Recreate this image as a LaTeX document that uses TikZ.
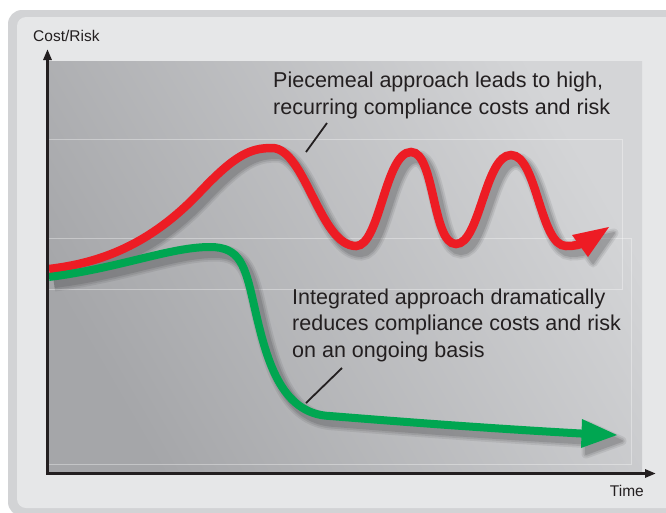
\documentclass[tikz,border=0pt]{standalone}
\usepackage{fontspec}
\setmainfont{Liberation Sans}
\usetikzlibrary{arrows.meta}
\definecolor{frameout}{HTML}{D2D3D5}
\definecolor{framein}{HTML}{E6E7E8}
\definecolor{plotdark}{HTML}{A5A6A9}
\definecolor{plotlight}{HTML}{D4D5D7}
\definecolor{inkc}{HTML}{231F20}
\definecolor{redc}{HTML}{ED1C24}
\definecolor{greenc}{HTML}{00A651}
\definecolor{shadowc}{HTML}{38383A}
\tikzset{
  redline/.style={draw=redc, line width=8.5pt},
  greenline/.style={draw=greenc, line width=8pt},
  callout/.style={draw=inkc, line width=1.8pt},
  panel/.style={draw=white, opacity=0.35, line width=0.8pt},
  bigtext/.style={font=\fontsize{21.5}{26.5}\selectfont, text=inkc, align=left, inner sep=0pt},
  axislabel/.style={font=\fontsize{15.5}{18}\selectfont, text=inkc, inner sep=0pt},
  axisline/.style={draw=inkc, line width=3pt, {Triangle[length=11pt,width=8pt]}-{Triangle[length=11pt,width=8pt]}}
}
\def\redpath{(49,269) .. controls (100,263) and (150,245) .. (200,192)
  .. controls (235,155) and (250,148) .. (272,148)
  .. controls (305,148) and (320,246) .. (356,246)
  .. controls (380,246) and (385,152) .. (411,152)
  .. controls (435,152) and (432,244) .. (456,244)
  .. controls (480,244) and (485,155) .. (511,155)
  .. controls (537,155) and (540,246) .. (566,246)
  .. controls (575,246) and (580,245) .. (588,241)}
\def\redhead{(609,227) -- (572,235) -- (588,257) -- cycle}
\def\greenpath{(49,277) .. controls (120,268) and (170,247) .. (210,247)
  .. controls (240,247) and (245,265) .. (254,305)
  .. controls (266,358) and (280,414) .. (330,416)
  .. controls (380,420) and (480,428) .. (590,434)}
\def\greenhead{(617,435) -- (582,419) -- (581,448) -- cycle}
\begin{document}
\begin{tikzpicture}[x=1pt,y=-1pt]
\useasboundingbox (0,0) rectangle (666,512);
\begin{scope}
\clip (0,0) rectangle (666,512);
\fill[white] (0,0) rectangle (666,512);
\fill[frameout, rounded corners=14pt] (8,10) rectangle (700,516);
\fill[framein, rounded corners=9pt] (17,17) rectangle (690,508);
\end{scope}
% plot area
\shade[top color=plotlight, bottom color=plotdark, shading angle=-60] (47,61) rectangle (642,473);
\draw[panel] (49,139) -| (622,289) -- (49,289);
\draw[panel] (49,238) -| (631,464) -- (49,464);
% shadows
\foreach \w/\o in {17/0.10, 13.5/0.13, 10/0.17} {
  \begin{scope}[transparency group, opacity=\o, shift={(5,6)}]
    \draw[shadowc, line width=\w pt] \redpath;
    \filldraw[shadowc, line width=\w pt - 8pt, line join=round] \redhead;
    \draw[shadowc, line width=\w pt] \greenpath;
    \filldraw[shadowc, line width=\w pt - 8pt, line join=round] \greenhead;
  \end{scope}
}
% curves
\draw[redline] \redpath;
\fill[redc] \redhead;
\draw[greenline] \greenpath;
\fill[greenc] \greenhead;
% axes
\coordinate (ytop) at (47.5,49);
\coordinate (origin) at (47.5,473.5);
\coordinate (xend) at (656,473.5);
\draw[axisline] (ytop) -- (origin) -- (xend);
% labels
\node[axislabel, anchor=base west] (costrisk) at (33,41) {Cost/Risk};
\node[axislabel, anchor=base east] (time) at (644,496) {Time};
\node[bigtext, anchor=base west] (piece) at (273,114) {Piecemeal approach leads to high,\\recurring compliance costs and risk};
\node[bigtext, anchor=base west] (integ) at (292,357) {Integrated approach dramatically\\reduces compliance costs and risk\\on an ongoing basis};
% callouts
\coordinate (c1a) at (306,152);
\coordinate (c1b) at (327,123);
\coordinate (c2a) at (306,403);
\coordinate (c2b) at (342,368);
\draw[callout] (c1a) -- (c1b);
\draw[callout] (c2a) -- (c2b);
\end{tikzpicture}
\end{document}
